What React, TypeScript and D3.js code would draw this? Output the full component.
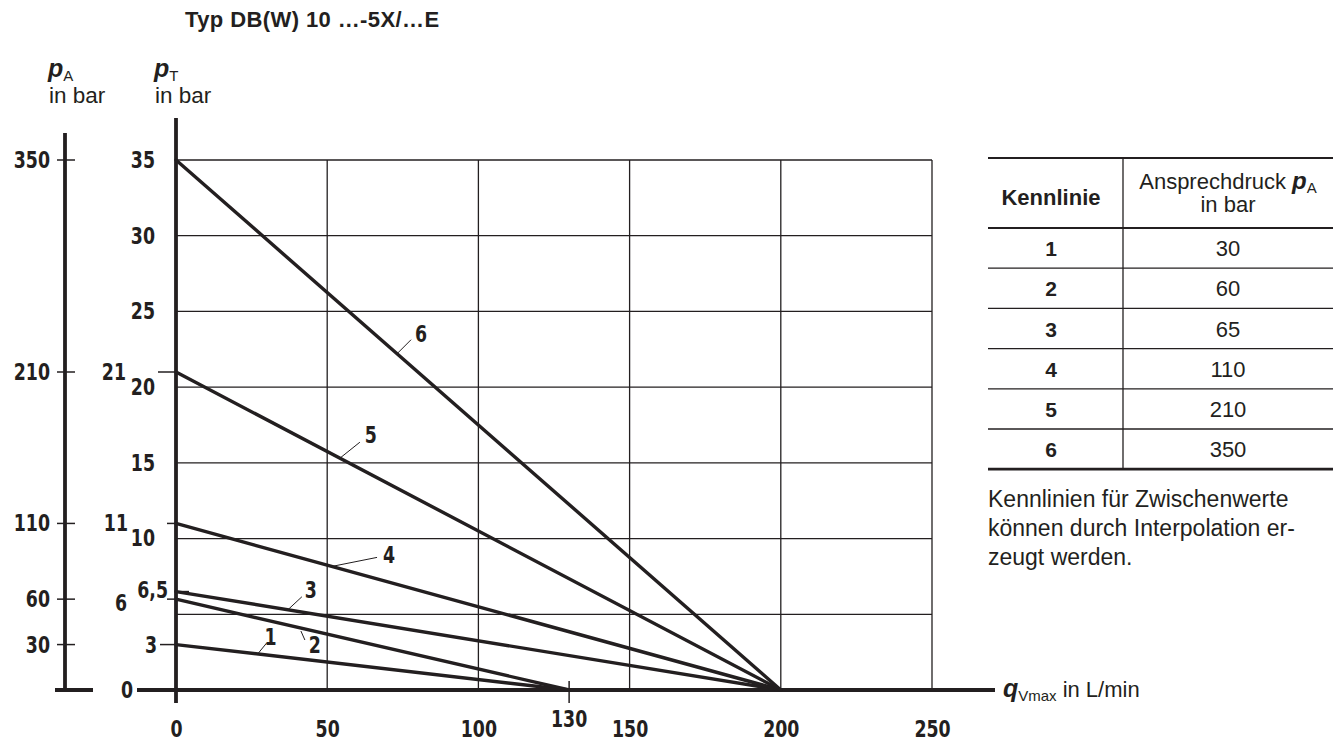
import React, { useEffect, useRef } from "react";
import * as d3 from "d3";

// characteristic curves (Kennlinien)
const curveIds = ["1", "2", "3", "4", "5", "6"];
const responsePressure = [30, 60, 65, 110, 210, 350]; // p_A in bar
const tankPressureStart = [3, 6, 6.5, 11, 21, 35]; // p_T at q = 0
const zeroFlow = [130, 130, 200, 200, 200, 200]; // q where p_T reaches 0
const labelFlow = [27, 41.3, 37, 51.6, 54.2, 73.1]; // q where the curve label attaches

const flowTicks = [0, 50, 100, 150, 200, 250];
const tankTicks = [10, 15, 20, 25, 30, 35];
const tankGrid = [5, 10, 15, 20, 25, 30, 35];
const markValues = [21, 11, 6.5, 6, 3, 0];
const markLabels = ["21", "11", "6,5", "6", "3", "0"];
const pressureMarks = [350, 210, 110, 60, 30];
const extraFlowTick = 130;

const noteLines = [
  "Kennlinien für Zwischenwerte",
  "können durch Interpolation er-",
  "zeugt werden.",
];

const INK = "#231f20";
const NUM_FONT = "'DejaVu Sans Condensed', 'DejaVu Sans', sans-serif";
const TXT_FONT = "'Liberation Sans', Arial, sans-serif";
const NUM_SIZE = 23;
const SQUEEZE = 0.84; // the original numerals are set in a condensed face

export default function App() {
  const ref = useRef<SVGSVGElement>(null);

  useEffect(() => {
    const svg = d3.select(ref.current);
    svg.selectAll("*").remove();

    const x = d3.scaleLinear().domain([0, 250]).range([176, 932]);
    const y = d3.scaleLinear().domain([0, 35]).range([690, 160]);
    const yA = d3.scaleLinear().domain([0, 350]).range([690, 160]);

    // condensed numeral at (px, py)
    const num = (px: number, py: number, s: string | number, anchor = "end", dy = "0.35em") =>
      svg.append("text")
        .attr("transform", `translate(${px},${py}) scale(${SQUEEZE},1)`)
        .attr("dy", dy)
        .attr("text-anchor", anchor)
        .attr("font-family", NUM_FONT).attr("font-weight", 700)
        .attr("font-size", NUM_SIZE).attr("fill", INK)
        .text(s);

    // title
    svg.append("text")
      .attr("x", 185).attr("y", 27)
      .attr("font-family", TXT_FONT).attr("font-weight", 700)
      .attr("font-size", 22).attr("letter-spacing", 0.4).attr("fill", INK)
      .text("Typ DB(W) 10 …-5X/…E");

    // axis titles p_A / p_T
    const axisTitle = (x0: number, sub: string) => {
      const t = svg.append("text").attr("x", x0).attr("y", 77)
        .attr("font-family", TXT_FONT).attr("fill", INK);
      t.append("tspan").attr("font-size", 25).attr("font-weight", 700)
        .attr("font-style", "italic").text("p");
      t.append("tspan").attr("font-size", 15).attr("dy", 4).text(sub);
      svg.append("text").attr("x", x0 + 1).attr("y", 103)
        .attr("font-family", TXT_FONT).attr("font-size", 22.5)
        .attr("fill", INK).text("in bar");
    };
    axisTitle(48, "A");
    axisTitle(154, "T");

    // grid
    const grid = svg.append("g").attr("stroke", INK).attr("stroke-width", 1.3);
    grid.selectAll("line.v").data(flowTicks.slice(1)).join("line")
      .attr("x1", d => x(d)).attr("x2", d => x(d))
      .attr("y1", y(0)).attr("y2", y(35));
    grid.selectAll("line.h").data(tankGrid).join("line")
      .attr("class", "h")
      .attr("x1", x(0)).attr("x2", x(250))
      .attr("y1", d => y(d)).attr("y2", d => y(d));

    // p_A axis
    const pa = svg.append("g").attr("stroke", INK);
    pa.append("line").attr("x1", 65).attr("x2", 65)
      .attr("y1", 133).attr("y2", yA(0)).attr("stroke-width", 3.8);
    pa.append("line").attr("x1", 55).attr("x2", 93)
      .attr("y1", yA(0)).attr("y2", yA(0)).attr("stroke-width", 3.8);
    pa.selectAll("line.t").data(pressureMarks).join("line")
      .attr("class", "t")
      .attr("x1", 57).attr("x2", 75)
      .attr("y1", d => yA(d)).attr("y2", d => yA(d)).attr("stroke-width", 1.5);
    pressureMarks.forEach(d => num(50, yA(d), d));

    // p_T axis with regular ticks
    const yAxis = svg.append("g")
      .attr("transform", `translate(${x(0)},0)`)
      .call(d3.axisLeft(y).tickValues(tankTicks).tickSize(0).tickPadding(21));
    yAxis.select(".domain").remove();
    yAxis.selectAll("text")
      .attr("x", -21 / SQUEEZE)
      .attr("transform", `scale(${SQUEEZE},1)`)
      .attr("font-family", NUM_FONT).attr("font-weight", 700)
      .attr("font-size", NUM_SIZE).attr("fill", INK);

    // special marks on p_T axis
    const markLayout = [
      { tx: 126, t1: -18, t2: 0, dy: 0 },
      { tx: 128, t1: -9, t2: 0, dy: 0 },
      { tx: 168, t1: 0, t2: 13, dy: -2 },
      { tx: 127, t1: -9, t2: 0, dy: 4 },
      { tx: 157, t1: -16, t2: 0, dy: 0 },
      { tx: 133, t1: -39, t2: 0, dy: 0 },
    ];
    markValues.forEach((v, i) => {
      const m = markLayout[i];
      if (v > 0) {
        svg.append("line")
          .attr("x1", x(0) + m.t1).attr("x2", x(0) + m.t2)
          .attr("y1", y(v)).attr("y2", y(v))
          .attr("stroke", INK).attr("stroke-width", 1.5);
      }
      num(m.tx, y(v) + m.dy, markLabels[i]);
    });

    // main axes
    svg.append("line").attr("x1", 137).attr("x2", 995)
      .attr("y1", y(0)).attr("y2", y(0))
      .attr("stroke", INK).attr("stroke-width", 3.8);
    svg.append("line").attr("x1", x(0)).attr("x2", x(0))
      .attr("y1", 118).attr("y2", 703)
      .attr("stroke", INK).attr("stroke-width", 3.8);

    // x axis labels
    const xAxis = svg.append("g")
      .attr("transform", `translate(0,${y(0)})`)
      .call(d3.axisBottom(x).tickValues(flowTicks).tickSize(0).tickPadding(31));
    xAxis.select(".domain").remove();
    xAxis.selectAll("text")
      .attr("transform", `scale(${SQUEEZE},1)`)
      .attr("font-family", NUM_FONT).attr("font-weight", 700)
      .attr("font-size", NUM_SIZE).attr("fill", INK);

    // extra tick at 130
    svg.append("line")
      .attr("x1", x(extraFlowTick)).attr("x2", x(extraFlowTick))
      .attr("y1", 681).attr("y2", 703)
      .attr("stroke", INK).attr("stroke-width", 1.5);
    num(x(extraFlowTick), 727, extraFlowTick, "middle", "0");

    // q_Vmax label
    const q = svg.append("text").attr("x", 1003).attr("y", 697)
      .attr("font-family", TXT_FONT).attr("fill", INK);
    q.append("tspan").attr("font-size", 25).attr("font-weight", 700)
      .attr("font-style", "italic").text("q");
    q.append("tspan").attr("font-size", 15).attr("dy", 4).text("Vmax");
    q.append("tspan").attr("font-size", 22).attr("dy", -4).attr("dx", 6).text("in L/min");

    // curves
    const line = d3.line<[number, number]>().x(d => x(d[0])).y(d => y(d[1]));
    curveIds.forEach((id, i) => {
      svg.append("path")
        .attr("d", line([[0, tankPressureStart[i]], [zeroFlow[i], 0]]))
        .attr("fill", "none").attr("stroke", INK)
        .attr("stroke-width", 3.4).attr("stroke-linecap", "round");
    });

    // curve labels with leaders
    const leaderLayout = [
      { s: [0, 0], e: [9, -11], t: [13, -9] },
      { s: [0, 3], e: [4, 12], t: [14, 25] },
      { s: [0, 0], e: [14, -13], t: [23, -12] },
      { s: [0, 0], e: [45, -9], t: [57, -3] },
      { s: [0, 0], e: [20, -16], t: [31, -15] },
      { s: [0, 0], e: [14, -14], t: [24, -12] },
    ];
    curveIds.forEach((id, i) => {
      const q0 = labelFlow[i];
      const px = x(q0);
      const py = y(tankPressureStart[i] * (1 - q0 / zeroFlow[i]));
      const L = leaderLayout[i];
      svg.append("line")
        .attr("x1", px + L.s[0]).attr("y1", py + L.s[1])
        .attr("x2", px + L.e[0]).attr("y2", py + L.e[1])
        .attr("stroke", INK).attr("stroke-width", 1);
      num(px + L.t[0], py + L.t[1], id, "middle", "0");
    });

    // table
    const tbl = svg.append("g").attr("font-family", TXT_FONT).attr("fill", INK);
    const tx0 = 988, tx1 = 1333, tDiv = 1123, tTop = 158, tHead = 228, rowH = 40.2;
    const colA = 1051, colB = 1228;
    const rowY = d3.range(curveIds.length + 1).map(k => tHead + k * rowH);
    tbl.append("line").attr("x1", tx0).attr("x2", tx1).attr("y1", tTop).attr("y2", tTop)
      .attr("stroke", INK).attr("stroke-width", 2.2);
    tbl.selectAll("line.r").data(rowY).join("line")
      .attr("class", "r")
      .attr("x1", tx0).attr("x2", tx1)
      .attr("y1", d => d).attr("y2", d => d)
      .attr("stroke", INK)
      .attr("stroke-width", (d, k) => (k === 0 ? 2.2 : k === rowY.length - 1 ? 2.8 : 1.3));
    tbl.append("line").attr("x1", tDiv).attr("x2", tDiv)
      .attr("y1", tTop).attr("y2", rowY[rowY.length - 1])
      .attr("stroke", INK).attr("stroke-width", 1.3);
    tbl.append("text").attr("x", colA).attr("y", 205)
      .attr("text-anchor", "middle").attr("font-size", 22).attr("font-weight", 700)
      .text("Kennlinie");
    const h = tbl.append("text").attr("x", colB).attr("y", 189)
      .attr("text-anchor", "middle").attr("font-size", 22);
    h.append("tspan").text("Ansprechdruck ");
    h.append("tspan").attr("font-weight", 700).attr("font-style", "italic")
      .attr("font-size", 24).text("p");
    h.append("tspan").attr("font-size", 15).attr("dy", 4).text("A");
    tbl.append("text").attr("x", colB).attr("y", 212)
      .attr("text-anchor", "middle").attr("font-size", 22).text("in bar");
    tbl.selectAll("text.id").data(curveIds).join("text")
      .attr("class", "id")
      .attr("x", colA).attr("y", (d, k) => tHead + k * rowH + rowH / 2 + 8)
      .attr("text-anchor", "middle").attr("font-size", 21).attr("font-weight", 700)
      .text(d => d);
    tbl.selectAll("text.val").data(responsePressure).join("text")
      .attr("class", "val")
      .attr("x", colB).attr("y", (d, k) => tHead + k * rowH + rowH / 2 + 8)
      .attr("text-anchor", "middle").attr("font-size", 22)
      .text(d => d);

    // note
    tbl.selectAll("text.note").data(noteLines).join("text")
      .attr("class", "note")
      .attr("x", tx0).attr("y", (d, k) => 507 + k * 29)
      .attr("font-size", 23)
      .text(d => d);
  }, []);

  return (
    <svg
      ref={ref}
      width={1341}
      height={742}
      style={{ position: "absolute", left: 0, top: 0, background: "#fff" }}
    />
  );
}
